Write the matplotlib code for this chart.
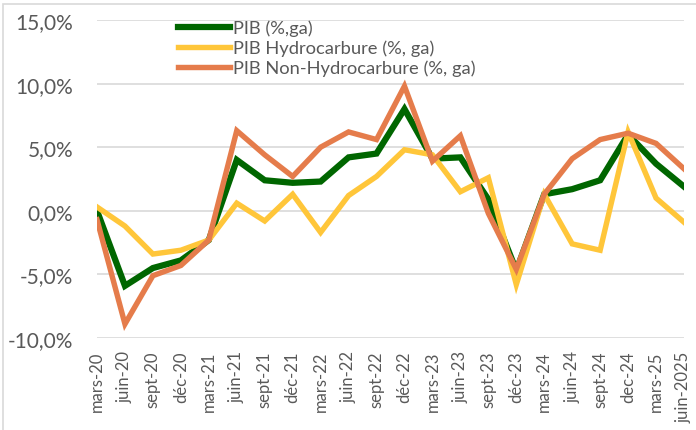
import matplotlib
matplotlib.use("Agg")
import matplotlib.pyplot as plt
from matplotlib.patches import Rectangle
from matplotlib.ticker import FuncFormatter

categories = ["mars-20", "juin-20", "sept-20", "déc-20", "mars-21", "juin-21", "sept-21",
              "déc-21", "mars-22", "juin-22", "sept-22", "déc-22", "mars-23", "juin-23",
              "sept-23", "déc-23", "mars-24", "juin-24", "sept-24", "dec-24", "mars-25",
              "juin-2025"]

pib = [0.0, -5.9, -4.5, -3.9, -2.3, 4.0, 2.4, 2.2, 2.3, 4.2, 4.5, 8.0, 4.1, 4.2,
       0.9, -4.7, 1.3, 1.7, 2.4, 6.0, 3.7, 1.9]
pib_hydro = [0.3, -1.2, -3.4, -3.1, -2.3, 0.6, -0.8, 1.3, -1.7, 1.2, 2.7, 4.8, 4.4, 1.5,
             2.6, -5.8, 1.3, -2.6, -3.1, 6.2, 1.0, -0.9]
pib_non_hydro = [-0.7, -8.9, -5.1, -4.3, -2.3, 6.3, 4.4, 2.7, 5.0, 6.2, 5.6, 9.8, 3.9, 5.9,
                 -0.2, -4.6, 1.3, 4.1, 5.6, 6.1, 5.3, 3.3]

labels = ["PIB (%,ga)", "PIB Hydrocarbure (%, ga)", "PIB Non-Hydrocarbure (%, ga)"]
colors = ["#006600", "#FFC63A", "#E57C4B"]
yticks = [-10, -5, 0, 5, 10, 15]

plt.rcParams["font.family"] = ["Lato", "DejaVu Sans"]
W, H = 696, 431
fig = plt.figure(figsize=(W / 100, H / 100), dpi=100)
ax = fig.add_axes([97 / W, 1 - 339 / H, (684 - 97) / W, (339 - 21) / H])

x = list(range(len(categories)))
ax.plot(x, pib, color=colors[0], lw=4.5, label=labels[0], solid_joinstyle="miter", zorder=3)
ax.plot(x, pib_hydro, color=colors[1], lw=3.9, label=labels[1], solid_joinstyle="miter", zorder=4)
ax.plot(x, pib_non_hydro, color=colors[2], lw=3.9, label=labels[2], solid_joinstyle="miter", zorder=5)

ax.set_xlim(0, len(categories) - 1)
ax.set_ylim(-10, 15)
ax.set_yticks(yticks)
ax.yaxis.set_major_formatter(FuncFormatter(lambda v, p: f"{v:.1f}%".replace(".", ",")))
ax.set_xticks(x)
ax.set_xticklabels(categories, rotation=90, va="top", ha="center")
ax.tick_params(axis="y", length=0, pad=17, labelsize=15, labelcolor="#595959")
ax.tick_params(axis="x", length=0, pad=9, labelsize=12, labelcolor="#595959")
for s in ax.spines.values():
    s.set_visible(False)
ax.grid(axis="y", color="#D9D9D9", lw=1.2)
ax.set_axisbelow(True)

leg = ax.legend(loc="upper left", bbox_to_anchor=(0.125, 1.025), frameon=False,
                fontsize=13.2, labelcolor="#595959", handlelength=2.85,
                handletextpad=0.15, labelspacing=0.2, borderaxespad=0)

fig.patches.append(Rectangle((3 / W, -0.1), 1.2, 1 - 5 / H + 0.1, transform=fig.transFigure,
                             fill=False, edgecolor="#D9D9D9", lw=1.2, zorder=0))

fig.savefig("out.png", dpi=100)
